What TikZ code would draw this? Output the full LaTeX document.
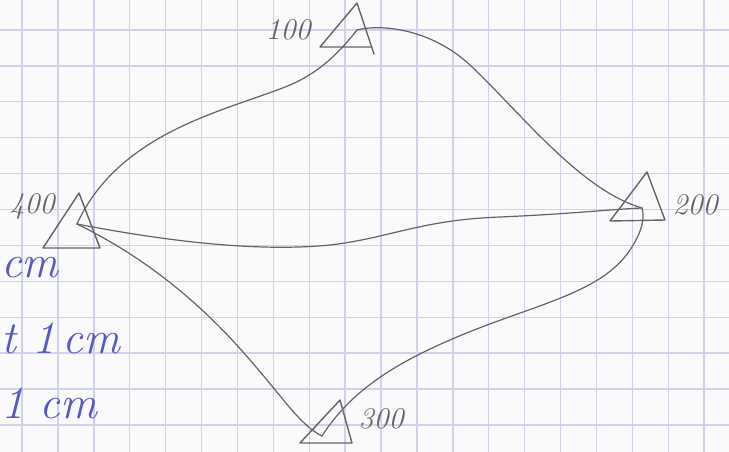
\documentclass[tikz,border=0pt]{standalone}
\usepackage{tikz}
\definecolor{paperWhite}{RGB}{250,250,252}
\definecolor{gridBlue}{RGB}{208,210,234}
\definecolor{pencilGray}{RGB}{100,100,100}
\definecolor{inkBlue}{RGB}{88,88,200}

\begin{document}
\begin{tikzpicture}[
    x=1pt, y=-1pt,
    gridline/.style={draw=gridBlue, line width=1.4pt},
    tri/.style={draw=pencilGray, line width=1.4pt, line join=round, line cap=round},
    route/.style={draw=pencilGray, line width=1.2pt, line cap=round},
    stn/.style={font=\fontsize{30}{30}\selectfont\itshape, text=pencilGray, inner sep=0pt},
    ink/.style={font=\fontsize{46}{46}\selectfont\itshape, text=inkBlue, inner sep=0pt, anchor=base west}
]
\useasboundingbox (0,0) rectangle (729,452);
\clip (0,0) rectangle (729,452);
\fill[paperWhite] (0,0) rectangle (729,452);

% ---- squared paper ----
\foreach \i in {-1,...,20}{%
  \draw[gridline] ({22+35.9*\i},0) -- ({22+35.9*\i},452);
}
\foreach \j in {-1,...,12}{%
  \draw[gridline] (0,{30+35.9*\j}) -- (729,{30+35.9*\j});
}

% ---- stations ----
\coordinate (s100) at (357,30);
\coordinate (s200) at (642,208);
\coordinate (s300) at (322,436);
\coordinate (s400) at (77,224);

\draw[tri] (372,47) -- (320,47) -- (357,3) -- (374,54);
\draw[tri] (610,221) -- (647,172) -- (665,220) -- cycle;
\draw[tri] (300,443) -- (340,400) -- (352,443) -- cycle;
\draw[tri] (43,248) -- (79,193) -- (100,248) -- cycle;

\node[stn] (lbl100) at (288,30) {100};
\node[stn] (lbl200) at (695,205) {200};
\node[stn] (lbl300) at (381,419) {300};
\node[stn] (lbl400) at (32,206) {400};

% ---- sight lines ----
\draw[route] (s400) .. controls (120,130) and (230,110) .. (290,85)
                    .. controls (325,70) and (345,45) .. (s100);
\draw[route] (s100) .. controls (380,24) and (430,28) .. (470,65)
                    .. controls (520,112) and (580,190) .. (s200);
\draw[route] (s400) .. controls (170,242) and (260,252) .. (330,245)
                    .. controls (390,238) and (420,220) .. (500,217)
                    .. controls (570,214) and (615,209) .. (s200);
\draw[route] (s400) .. controls (130,250) and (190,290) .. (250,360)
                    .. controls (285,400) and (300,425) .. (s300);
\draw[route] (s300) .. controls (345,400) and (380,370) .. (450,340)
                    .. controls (530,305) and (600,295) .. (630,250)
                    .. controls (642,232) and (645,218) .. (s200);

% ---- notes in the margin ----
\node[ink] (note1) at (1,277) {cm};
\node[ink] (note2) at (1,353) {t 1\,cm};
\node[ink] (note3) at (1,418) {1\,\,cm};
\end{tikzpicture}
\end{document}
